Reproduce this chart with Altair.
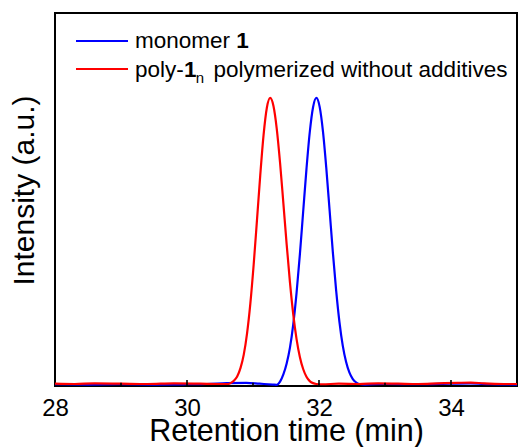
import altair as alt
import pandas as pd

# GPC traces: retention time (min) and normalised detector intensity
monomer_time = [28.0, 28.5, 29.0, 29.5, 30.0, 30.3, 30.6, 30.9, 31.1, 31.3, 31.36,
                31.41, 31.46, 31.51, 31.56, 31.61, 31.66, 31.71, 31.76, 31.81, 31.86,
                31.91, 31.96, 32.01, 32.06, 32.11, 32.16, 32.21, 32.26, 32.31, 32.36,
                32.41, 32.46, 32.51, 32.56, 32.61, 32.7, 33.0, 33.5, 34.0, 34.3, 34.6, 35.0]
monomer_int = [0.006, 0.005, 0.006, 0.005, 0.006, 0.007, 0.010, 0.011, 0.008, 0.005, 0.004,
               0.015, 0.040, 0.078, 0.133, 0.214, 0.323, 0.456, 0.605, 0.753, 0.881,
               0.968, 1.000, 0.969, 0.884, 0.758, 0.612, 0.464, 0.331, 0.222, 0.140,
               0.084, 0.047, 0.025, 0.013, 0.007, 0.005, 0.007, 0.006, 0.008, 0.009, 0.006, 0.005]

poly_time = [28.0, 28.3, 28.6, 29.0, 29.4, 29.8, 30.2, 30.5, 30.63,
             30.66, 30.71, 30.76, 30.81, 30.86, 30.91, 30.96, 31.01, 31.06, 31.11,
             31.16, 31.21, 31.26, 31.31, 31.36, 31.41, 31.46, 31.51, 31.56, 31.61,
             31.66, 31.71, 31.76, 31.81, 31.86, 31.91, 31.96, 32.05, 32.3, 32.6,
             32.9, 33.2, 33.5, 33.8, 34.1, 34.3, 34.5, 34.8, 35.0]
poly_int = [0.008, 0.007, 0.009, 0.008, 0.007, 0.009, 0.008, 0.007, 0.007,
            0.010, 0.018, 0.033, 0.062, 0.109, 0.183, 0.287, 0.421, 0.575, 0.732,
            0.871, 0.966, 1.000, 0.972, 0.893, 0.775, 0.635, 0.492, 0.360, 0.249,
            0.163, 0.101, 0.059, 0.032, 0.017, 0.010, 0.007, 0.006, 0.008, 0.007,
            0.009, 0.008, 0.007, 0.009, 0.011, 0.012, 0.009, 0.007, 0.007]

x_labels = [28, 30, 32, 34]
major_ticks = [30, 32, 34]
minor_ticks = [29, 31, 33]

FONT = "Liberation Sans"
BLUE = "#0000ff"
RED = "#ff0000"
Y_MAX = 1.295
MAJOR_LEN = 0.021
MINOR_LEN = 0.011

x_scale = alt.Scale(domain=[28, 35], nice=False, zero=False)
y_scale = alt.Scale(domain=[0, Y_MAX], nice=False, zero=False)

x_axis = alt.Axis(values=x_labels, format="d", ticks=False, domain=False, grid=False,
                  labelFont=FONT, labelFontSize=24, labelColor="black",
                  labelPadding=10, labelFlush=False,
                  title="Retention time (min)", titleFont=FONT, titleFontSize=30.5,
                  titleFontWeight="normal", titleColor="black",
                  titleBaseline="alphabetic", titleY=54)
y_axis = alt.Axis(labels=False, ticks=False, domain=False, grid=False,
                  title="Intensity (a.u.)", titleFont=FONT, titleFontSize=30,
                  titleFontWeight="normal", titleColor="black",
                  titleBaseline="alphabetic", titleX=-22, titleY=177, titleAngle=270)

monomer_df = pd.DataFrame({"t": monomer_time, "I": monomer_int})
poly_df = pd.DataFrame({"t": poly_time, "I": poly_int})

monomer_line = alt.Chart(monomer_df).mark_line(
    color=BLUE, strokeWidth=2.2, interpolate="monotone"
).encode(
    x=alt.X("t:Q", scale=x_scale, axis=x_axis),
    y=alt.Y("I:Q", scale=y_scale, axis=y_axis),
)

poly_line = alt.Chart(poly_df).mark_line(
    color=RED, strokeWidth=2.2, interpolate="monotone"
).encode(
    x=alt.X("t:Q", scale=x_scale),
    y=alt.Y("I:Q", scale=y_scale),
)

# inward-pointing ticks on the bottom axis
tick_pos = major_ticks + minor_ticks
tick_df = pd.DataFrame({
    "t": tick_pos,
    "base": [0.0] * len(tick_pos),
    "len": [MAJOR_LEN] * len(major_ticks) + [MINOR_LEN] * len(minor_ticks),
})
ticks = alt.Chart(tick_df).mark_rule(color="black", strokeWidth=1.6).encode(
    x=alt.X("t:Q", scale=x_scale),
    y=alt.Y("base:Q", scale=y_scale),
    y2=alt.Y2("len:Q"),
)

one = alt.Data(values=[{"k": 0}])


def legend_rule(color, ypix):
    return alt.Chart(one).mark_rule(color=color, strokeWidth=2.2).encode(
        x=alt.value(21), x2=alt.value(73), y=alt.value(ypix)
    )


def legend_text(text, xpix, ypix, size=22.5, weight="normal"):
    return alt.Chart(one).mark_text(
        align="left", baseline="alphabetic", font=FONT, fontSize=size,
        fontWeight=weight, color="black", text=text
    ).encode(x=alt.value(xpix), y=alt.value(ypix))


legend = [
    legend_rule(BLUE, 28),
    legend_rule(RED, 56),
    legend_text("monomer", 80, 35.3),
    legend_text("1", 181.3, 35.3, weight="bold"),
    legend_text("poly-", 80, 63.7),
    legend_text("1", 129, 63.7, weight="bold"),
    legend_text("n", 140.7, 70, size=15),
    legend_text("polymerized without additives", 158.5, 63.7),
]

chart = alt.layer(monomer_line, poly_line, ticks, *legend).properties(
    width=462, height=373,
    background="white",
    autosize=alt.AutoSizeParams(type="none"),
    padding={"left": 55, "top": 13, "right": 3, "bottom": 61},
).configure_view(
    stroke="black", strokeWidth=2
)

chart.save("out.html", embed_options={"renderer": "svg", "actions": False})
